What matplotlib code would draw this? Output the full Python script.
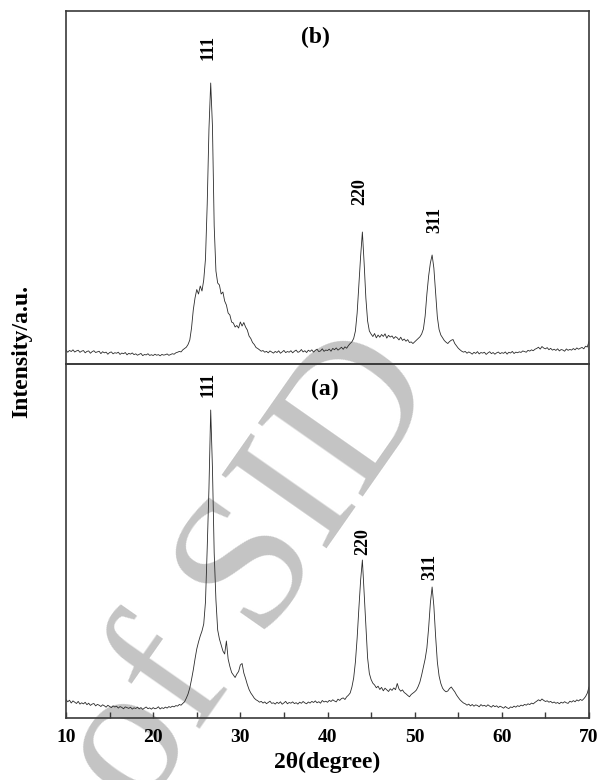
import numpy as np
import matplotlib
matplotlib.use("Agg")
import matplotlib.pyplot as plt
from matplotlib.ticker import MultipleLocator

plt.rcParams['font.family'] = ['Liberation Serif', 'DejaVu Serif']

# 2theta grid, 10 -> 70 deg, step 0.2
two_theta = np.round(np.linspace(10, 70, 301), 1)

# sample (b), counts
int_b = [
    140, 118, 136, 125, 142, 120, 131, 138, 117, 129,
    135, 112, 126, 131, 108, 124, 133, 115, 121, 128,
    104, 123, 112, 119, 98, 115, 121, 102, 113, 108,
    118, 96, 110, 103, 115, 92, 107, 99, 111, 94,
    102, 88, 97, 106, 84, 95, 91, 103, 86, 93,
    85, 98, 88, 94, 82, 96, 89, 93, 101, 87,
    95, 103, 98, 112, 118, 126, 121, 142, 155, 168,
    195, 240, 360, 540, 660, 745, 700, 780, 730, 840,
    1050, 1600, 2350, 2810, 2380, 1380, 930, 810, 790, 700,
    720, 630, 590, 510, 490, 420, 410, 370, 385, 360,
    420, 380, 415, 370, 340, 280, 255, 215, 195, 165,
    155, 142, 128, 135, 118, 127, 112, 131, 120, 109,
    126, 115, 132, 108, 121, 136, 114, 125, 118, 133,
    112, 128, 139, 117, 124, 145, 121, 133, 115, 138,
    126, 142, 119, 137, 148, 124, 131, 152, 127, 140,
    135, 149, 128, 156, 143, 161, 139, 152, 168, 147,
    172, 158, 185, 205, 222, 255, 330, 510, 800, 1080,
    1320, 1010, 660, 430, 330, 300, 275, 305, 262, 290,
    268, 295, 276, 302, 259, 287, 270, 281, 255, 274,
    262, 241, 268, 236, 250, 228, 244, 215, 221, 205,
    222, 238, 255, 272, 300, 350, 480, 700, 880, 1010,
    1090, 960, 720, 470, 345, 290, 262, 235, 218, 205,
    225, 238, 245, 205, 182, 158, 142, 128, 119, 126,
    108, 121, 112, 99, 117, 106, 124, 101, 115, 109,
    118, 96, 111, 123, 104, 115, 98, 112, 120, 103,
    114, 107, 121, 99, 118, 110, 126, 105, 119, 113,
    122, 116, 131, 124, 118, 137, 129, 142, 133, 148,
    156, 168, 149, 175, 160, 152, 164, 143, 157, 139,
    148, 136, 152, 131, 145, 140, 128, 151, 137, 146,
    139, 155, 142, 161, 148, 158, 166, 152, 178, 170,
    225,
]

# sample (a), counts
int_a = [
    185, 162, 178, 150, 171, 158, 145, 166, 139, 152,
    141, 157, 133, 148, 126, 139, 145, 121, 136, 128,
    115, 132, 122, 108, 127, 116, 104, 121, 110, 118,
    99, 114, 106, 92, 111, 103, 96, 108, 89, 102,
    95, 108, 91, 104, 86, 99, 110, 93, 101, 88,
    104, 92, 98, 112, 90, 103, 95, 109, 99, 114,
    106, 118, 111, 124, 119, 135, 128, 146, 162, 198,
    240, 300, 385, 480, 590, 690, 760, 820, 870, 940,
    1160, 1700, 2300, 3080, 2500, 1650, 1180, 880, 790, 730,
    670, 640, 770, 590, 515, 455, 430, 405, 440, 465,
    530, 545, 450, 395, 335, 285, 250, 225, 198, 182,
    172, 158, 166, 149, 161, 143, 155, 168, 146, 152,
    139, 157, 145, 162, 138, 151, 166, 142, 155, 148,
    161, 144, 153, 139, 158, 147, 165, 151, 142, 160,
    149, 166, 155, 171, 152, 163, 148, 175, 160, 168,
    157, 176, 165, 182, 170, 161, 188, 176, 194, 201,
    185, 212, 228, 250, 310, 400, 560, 800, 1100, 1380,
    1580, 1250, 900, 600, 445, 385, 348, 330, 302, 318,
    285, 306, 272, 298, 281, 265, 292, 276, 301, 283,
    345, 290, 268, 281, 255, 242, 226, 212, 235, 248,
    262, 280, 315, 360, 430, 510, 590, 700, 900, 1150,
    1310, 1120, 820, 560, 420, 345, 298, 275, 262, 270,
    295, 310, 285, 262, 230, 205, 182, 165, 150, 142,
    128, 139, 121, 135, 118, 131, 125, 112, 134, 120,
    127, 115, 132, 119, 108, 126, 113, 122, 105, 118,
    109, 98, 115, 102, 94, 111, 104, 119, 108, 123,
    115, 129, 121, 136, 128, 142, 134, 149, 141, 156,
    168, 182, 171, 190, 176, 165, 172, 158, 166, 151,
    160, 147, 155, 142, 158, 149, 163, 152, 146, 168,
    159, 174, 162, 181, 170, 186, 175, 192, 214, 248,
    310,
]

# peak labels: (hkl, 2theta, counts at label foot)
peaks_b = [("111", 26.3, 3040), ("220", 43.7, 1590), ("311", 52.3, 1310)]
peaks_a = [("111", 26.3, 3210), ("220", 44.0, 1630), ("311", 51.7, 1380)]

fig = plt.figure(figsize=(6, 7.8), dpi=100)
ax_b = fig.add_axes([0.11, 0.5333, 0.8717, 0.4526])
ax_a = fig.add_axes([0.11, 0.0795, 0.8717, 0.4538])

# watermark sitting behind the axes
fig.text(0.42, 0.265, "of SID", fontsize=140, color="#c4c4c4", rotation=55,
         ha="center", va="center", family="Liberation Serif", zorder=-1)

spine_c = "#3a3a3a"
for ax in (ax_b, ax_a):
    ax.set_facecolor("none")
    ax.set_xlim(10, 70)
    ax.set_yticks([])
    for sp in ax.spines.values():
        sp.set_color(spine_c)
        sp.set_linewidth(1.2)

ax_b.plot(two_theta, int_b, color="#2b2b2b", lw=0.6)
ax_a.plot(two_theta, int_a, color="#2b2b2b", lw=0.6)
ax_b.set_ylim(0, 3530)
ax_a.set_ylim(0, 3540)

ax_b.set_xticks([])
ax_a.xaxis.set_major_locator(MultipleLocator(10))
ax_a.xaxis.set_minor_locator(MultipleLocator(5))
ax_a.tick_params(axis="x", which="both", direction="in", length=4, width=1,
                 color=spine_c, labelsize=14, pad=8)
for lab in ax_a.get_xticklabels():
    lab.set_fontweight("bold")
ax_a.set_xlabel("2θ(degree)", fontsize=17, fontweight="bold", labelpad=4)

for ax, peaks in ((ax_b, peaks_b), (ax_a, peaks_a)):
    for hkl, xp, yp in peaks:
        ax.text(xp, yp, hkl, rotation=90, ha="center", va="bottom",
                fontsize=13, fontweight="bold")

ax_b.text(38.6, 3270, "(b)", ha="center", va="center", fontsize=17, fontweight="bold")
ax_a.text(39.7, 3290, "(a)", ha="center", va="center", fontsize=17, fontweight="bold")

fig.text(22 / 600, 1 - 352 / 780, "Intensity/a.u.", rotation=90, ha="center",
         va="center", fontsize=17, fontweight="bold")

fig.savefig("out.png", dpi=100)
